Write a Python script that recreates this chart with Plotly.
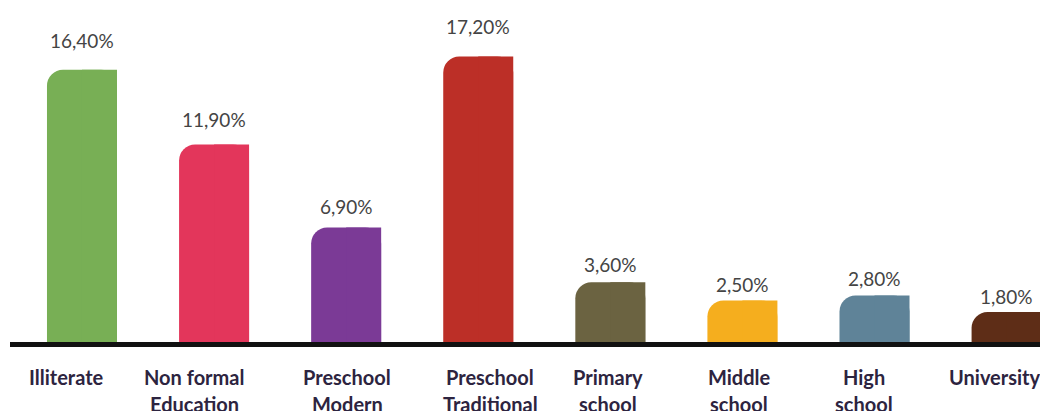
import plotly.graph_objects as go

# ---- data ----
categories = ["Illiterate", "Non formal<br>Education", "Preschool<br>Modern",
              "Preschool<br>Traditional", "Primary<br>school", "Middle<br>school",
              "High<br>school", "University"]
values = [16.4, 11.9, 6.9, 17.2, 3.6, 2.5, 2.8, 1.8]
value_labels = ["16,40%", "11,90%", "6,90%", "17,20%", "3,60%", "2,50%", "2,80%", "1,80%"]
colors = ["#78AF55", "#E3365B", "#7B3A96", "#BC2F27", "#6B6341", "#F5AE1E", "#5F8398", "#5E2D17"]

# ---- styling / layout helpers ----
label_xshift = [-15, -20, 1, 12, -2, -3, -11, -12]
bar_w = 0.53
x = list(range(len(values)))

fig = go.Figure()
# full bars with rounded tops
fig.add_trace(go.Bar(
    x=x, y=values, width=bar_w, offset=-bar_w / 2,
    marker=dict(color=colors, cornerradius=16, line=dict(width=0)),
    hoverinfo="skip", showlegend=False))
# right halves with square corners (only top-left corner stays rounded)
fig.add_trace(go.Bar(
    x=x, y=values, width=bar_w / 2, offset=0,
    marker=dict(color=colors, line=dict(width=0)),
    hoverinfo="skip", showlegend=False))

annotations = []
for i, (v, lab) in enumerate(zip(values, value_labels)):
    annotations.append(dict(
        x=i, y=v, xref="x", yref="y", text=lab, showarrow=False,
        yanchor="middle", yshift=14 + 0.95 * v,
        font=dict(family="Lato", size=19, color="#444444")))
for i, cat in enumerate(categories):
    parts = cat.split("<br>")
    for j, p in enumerate(parts):
        annotations.append(dict(
            x=i, y=[-0.1023, -0.1813][j], xref="x", yref="paper", text=p,
            showarrow=False, yanchor="middle", xanchor="center",
            xshift=label_xshift[i],
            font=dict(family="Lato", size=20, color="#2d2440", weight="bold")))

fig.update_layout(
    width=1040, height=411,
    margin=dict(l=10, r=0, t=0, b=69),
    paper_bgcolor="white", plot_bgcolor="white",
    barmode="overlay",
    annotations=annotations,
    xaxis=dict(range=[-0.545, 7.253], showgrid=False, zeroline=False,
               showticklabels=False, ticks="", showline=True,
               linecolor="#111111", linewidth=5, fixedrange=True),
    yaxis=dict(range=[0, 20.6], visible=False, fixedrange=True),
)

fig.write_html("out.html", post_script="document.body.style.margin='0';",
               config={"displayModeBar": False})
